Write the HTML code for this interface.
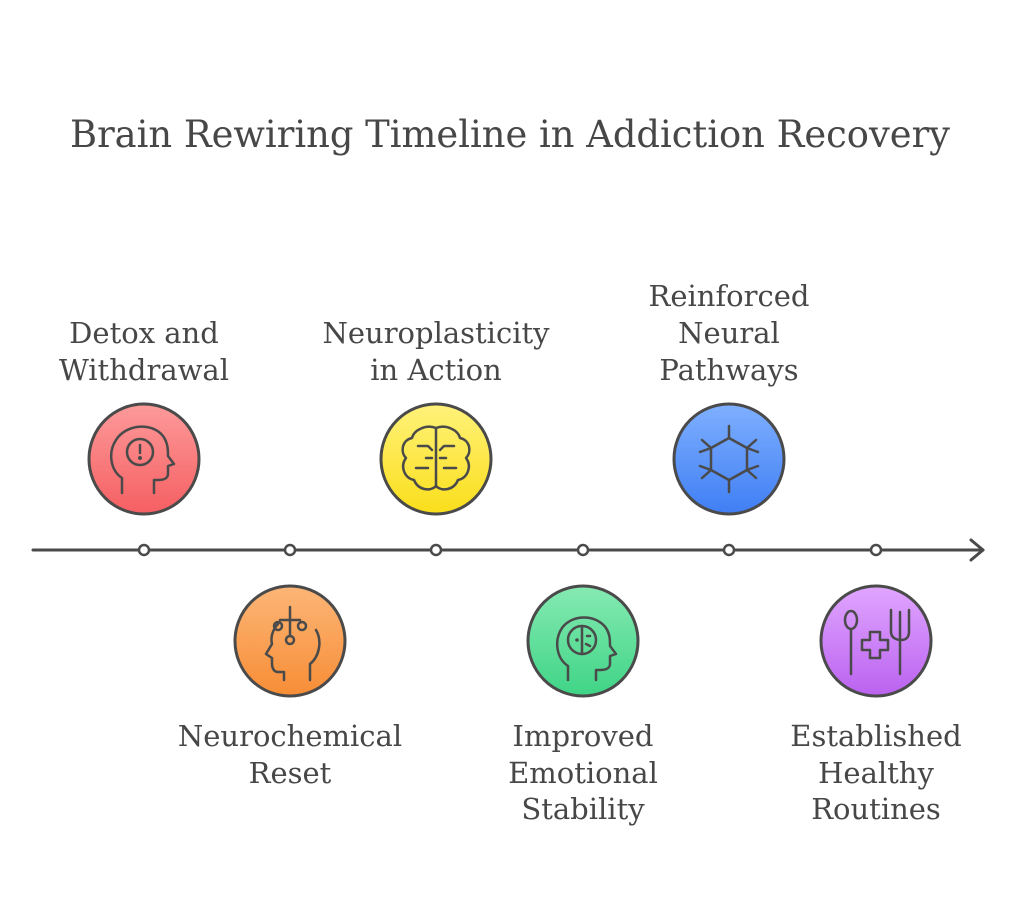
<!DOCTYPE html>
<html><head><meta charset="utf-8"><style>
html,body{margin:0;padding:0;background:#fff;}
svg{display:block;}
text{font-family:"DejaVu Serif","Liberation Serif",serif;fill:#474747;}
</style></head><body>
<svg width="1024" height="900" viewBox="0 0 1024 900" xmlns="http://www.w3.org/2000/svg">
<defs>
<linearGradient id="gr" x1="0" y1="0" x2="0" y2="1"><stop offset="0" stop-color="#fd9a9a"/><stop offset="1" stop-color="#f55f62"/></linearGradient>
<linearGradient id="go" x1="0" y1="0" x2="0" y2="1"><stop offset="0" stop-color="#fcb677"/><stop offset="1" stop-color="#f78d36"/></linearGradient>
<linearGradient id="gy" x1="0" y1="0" x2="0" y2="1"><stop offset="0" stop-color="#fff27a"/><stop offset="1" stop-color="#fade1a"/></linearGradient>
<linearGradient id="gg" x1="0" y1="0" x2="0" y2="1"><stop offset="0" stop-color="#86eab2"/><stop offset="1" stop-color="#3fd486"/></linearGradient>
<linearGradient id="gb" x1="0" y1="0" x2="0" y2="1"><stop offset="0" stop-color="#7fb0ff"/><stop offset="1" stop-color="#3f7ef4"/></linearGradient>
<linearGradient id="gp" x1="0" y1="0" x2="0" y2="1"><stop offset="0" stop-color="#e0a6ff"/><stop offset="1" stop-color="#bb62f0"/></linearGradient>
</defs>
<text x="510" y="147" font-size="37" text-anchor="middle" textLength="880" lengthAdjust="spacingAndGlyphs">Brain Rewiring Timeline in Addiction Recovery</text>

<g stroke="#4a4a4a" stroke-width="3" fill="none" stroke-linecap="round" stroke-linejoin="round">
<line x1="33" y1="550" x2="983" y2="550"/>
<polyline points="971,540 983,550 971,560"/>
</g>
<g fill="#fff" stroke="#4a4a4a" stroke-width="2.5">
<circle cx="144" cy="550" r="5"/><circle cx="290" cy="550" r="5"/><circle cx="436" cy="550" r="5"/>
<circle cx="583" cy="550" r="5"/><circle cx="729" cy="550" r="5"/><circle cx="876" cy="550" r="5"/>
</g>

<g stroke="#4a4a4a" stroke-width="3">
<circle cx="144" cy="459" r="55" fill="url(#gr)"/>
<circle cx="290" cy="641" r="55" fill="url(#go)"/>
<circle cx="436" cy="459" r="55" fill="url(#gy)"/>
<circle cx="583" cy="641" r="55" fill="url(#gg)"/>
<circle cx="729" cy="459" r="55" fill="url(#gb)"/>
<circle cx="876" cy="641" r="55" fill="url(#gp)"/>
</g>

<g stroke="#4a4a4a" stroke-width="2.5" fill="none" stroke-linecap="round" stroke-linejoin="round">
<path d="M122,493 V478 C110,470 108,452 116,440 C126,424 152,422 163,436 C168,443 168,450 168,456 L174,464 L168,466 V474 C168,478 164,480 158,480 H154 V493"/>
<circle cx="140" cy="452" r="13"/>
<line x1="140" y1="445" x2="140" y2="453"/>
<path d="M310,680 V664 C320,656 322,640 316,630"/>
<path d="M284,680 V672 H278 C274,672 272,668 272,664 V658 L266,654 L272,644 C270,636 274,628 278,624"/>
<line x1="290" y1="607" x2="290" y2="636"/><path d="M280,620 H300"/>
<circle cx="278" cy="626" r="4"/><circle cx="302" cy="626" r="4"/><circle cx="290" cy="640" r="4"/>
<path d="M436,428 C426,424 414,430 412,438 C402,440 400,452 406,458 C400,466 404,478 414,480 C418,490 430,492 436,486 C442,492 454,490 458,480 C468,478 472,466 466,458 C472,452 470,440 460,438 C458,430 446,424 436,428 Z"/>
<line x1="436" y1="428" x2="436" y2="486"/>
<path d="M418,446 H428 L432,450"/><path d="M416,468 H428"/><path d="M426,458 H432"/>
<path d="M454,446 H444 L440,450"/><path d="M456,468 H444"/><path d="M446,458 H440"/>
<polygon points="729,438 747,448 747,470 729,480 711,470 711,448"/>
<line x1="729" y1="438" x2="729" y2="426"/><line x1="729" y1="480" x2="729" y2="492"/>
<path d="M747,448 L756,440 M747,448 L758,452"/><path d="M711,448 L702,440 M711,448 L700,452"/>
<path d="M747,470 L756,478 M747,470 L758,466"/><path d="M711,470 L702,478 M711,470 L700,466"/>
<path d="M568,680 V666 C556,658 554,640 562,628 C572,614 596,614 606,628 C610,634 610,640 610,646 L616,654 L610,656 V664 C610,668 606,670 600,670 H596 V680"/>
<circle cx="582" cy="640" r="14"/><line x1="582" y1="626" x2="582" y2="654"/>
<path d="M587,636 L590,636 M586,644 L590,646"/>
<ellipse cx="851" cy="620" rx="6" ry="9"/><line x1="851" y1="629" x2="851" y2="674"/>
<path d="M891,610 V632 C891,638 897,640 901,640 C905,640 909,638 909,632 V610"/><line x1="900" y1="612" x2="900" y2="674"/>
<path d="M870,632 H880 V640 H888 V650 H880 V658 H870 V650 H862 V640 H870 Z"/>
</g>
<g fill="#4a4a4a" stroke="none"><circle cx="140" cy="458" r="2"/><circle cx="577" cy="640" r="1.8"/></g>

<g font-size="29" text-anchor="middle">
<text x="144" y="343">Detox and</text><text x="144" y="380">Withdrawal</text>
<text x="436" y="343">Neuroplasticity</text><text x="436" y="380">in Action</text>
<text x="729" y="306">Reinforced</text><text x="729" y="343">Neural</text><text x="729" y="380">Pathways</text>
<text x="290" y="746">Neurochemical</text><text x="290" y="783">Reset</text>
<text x="583" y="746">Improved</text><text x="583" y="783">Emotional</text><text x="583" y="819">Stability</text>
<text x="876" y="746">Established</text><text x="876" y="783">Healthy</text><text x="876" y="819">Routines</text>
</g>
</svg>
</body></html>
